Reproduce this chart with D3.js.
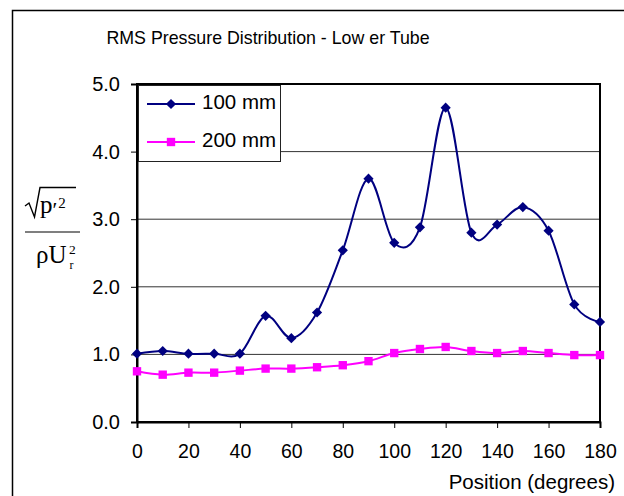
<!DOCTYPE html>
<html>
<head>
<meta charset="utf-8">
<script src="https://cdn.jsdelivr.net/npm/d3@7"></script>
<style>
  body { margin: 0; background: #fff; }
  text { font-family: "Liberation Sans", Arial, sans-serif; }
</style>
</head>
<body>
<div id="chart"></div>
<script>
const positions = [0, 10, 20, 30, 40, 50, 60, 70, 80, 90, 100, 110, 120, 130, 140, 150, 160, 170, 180];
const series100 = [1.01, 1.05, 1.01, 1.01, 1.01, 1.57, 1.24, 1.62, 2.54, 3.60, 2.65, 2.88, 4.65, 2.80, 2.92, 3.18, 2.83, 1.74, 1.48];
const series200 = [0.75, 0.70, 0.73, 0.73, 0.76, 0.79, 0.79, 0.81, 0.84, 0.90, 1.02, 1.08, 1.11, 1.05, 1.02, 1.05, 1.02, 0.99, 0.99];
const xTicks = [0, 20, 40, 60, 80, 100, 120, 140, 160, 180];
const yTicks = [0, 1, 2, 3, 4, 5];
const seriesNames = ["100 mm", "200 mm"];

const width = 624, height = 496;
const plotLeft = 137, plotRight = 600, plotTop = 84, plotBottom = 422;

const svg = d3.select("#chart").append("svg")
    .attr("width", width)
    .attr("height", height);

// outer chart frame (runs off the picture on right and bottom)
svg.append("rect")
    .attr("x", 12.5).attr("y", 10.5)
    .attr("width", 700).attr("height", 600)
    .attr("fill", "none")
    .attr("stroke", "#000")
    .attr("stroke-width", 1.5);

svg.append("text")
    .attr("x", 268).attr("y", 44)
    .attr("text-anchor", "middle")
    .style("font-size", "17.8px")
    .text("RMS Pressure Distribution - Low er Tube");

const x = d3.scaleLinear().domain([0, 180]).range([plotLeft, plotRight]);
const y = d3.scaleLinear().domain([0, 5]).range([plotBottom, plotTop]);

// gridlines
svg.append("g")
    .selectAll("line")
    .data(yTicks.slice(1, -1))
    .join("line")
    .attr("x1", plotLeft).attr("x2", plotRight)
    .attr("y1", d => y(d)).attr("y2", d => y(d))
    .attr("stroke", "#333")
    .attr("stroke-width", 1);

// plot area border
svg.append("rect")
    .attr("x", plotLeft).attr("y", plotTop)
    .attr("width", plotRight - plotLeft).attr("height", plotBottom - plotTop)
    .attr("fill", "none")
    .attr("stroke", "#000")
    .attr("stroke-width", 2);

const xAxis = svg.append("g")
    .attr("transform", `translate(0,${plotBottom})`)
    .call(d3.axisBottom(x).tickValues(xTicks).tickSize(6).tickPadding(16).tickFormat(d3.format("d")));
xAxis.select(".domain").attr("stroke-width", 2);
xAxis.selectAll("text").style("font-size", "19.5px").attr("fill", "#000");

const yAxis = svg.append("g")
    .attr("transform", `translate(${plotLeft},0)`)
    .call(d3.axisLeft(y).tickValues(yTicks).tickSize(6).tickPadding(11).tickFormat(d3.format(".1f")));
yAxis.select(".domain").attr("stroke-width", 2);
yAxis.selectAll("text").style("font-size", "20px").attr("fill", "#000");

svg.append("text")
    .attr("x", 615).attr("y", 489)
    .attr("text-anchor", "end")
    .style("font-size", "20.5px")
    .text("Position (degrees)");

// y axis label: sqrt(p'^2) / (rho U_r^2)
const serif = "'Liberation Serif', 'Times New Roman', serif";
const yl = svg.append("g");
yl.append("path")
    .attr("d", "M25,206 L29,203 L34.5,217 L40,187.5 L76,187.5")
    .attr("fill", "none")
    .attr("stroke", "#000")
    .attr("stroke-width", 1.4);
const num = yl.append("text").attr("x", 40).attr("y", 213)
    .style("font-family", serif).style("font-size", "25px");
num.append("tspan").text("p");
num.append("tspan").attr("dy", 4).style("font-size", "22px").text("\u2032");
num.append("tspan").attr("dy", -9).attr("dx", 1).style("font-size", "15px").text("2");
yl.append("line").attr("x1", 25).attr("x2", 80).attr("y1", 232).attr("y2", 232)
    .attr("stroke", "#000").attr("stroke-width", 1.2);
const den = yl.append("text").attr("x", 36).attr("y", 263)
    .style("font-family", serif).style("font-size", "25px");
den.append("tspan").text("\u03C1U");
den.append("tspan").attr("x", 69).attr("y", 253.5).style("font-size", "13.5px").text("2");
den.append("tspan").attr("x", 69.5).attr("y", 269).style("font-size", "12px").text("r");

const line = d3.line()
    .x((d, i) => x(positions[i]))
    .y(d => y(d))
    .curve(d3.curveCardinal.tension(0));

const diamond = d3.symbol().type(d3.symbolSquare).size(52);
const square = d3.symbol().type(d3.symbolSquare).size(70);

svg.append("path")
    .datum(series100)
    .attr("d", line)
    .attr("fill", "none")
    .attr("stroke", "#000080")
    .attr("stroke-width", 2);
svg.append("g").selectAll("path")
    .data(series100)
    .join("path")
    .attr("transform", (d, i) => `translate(${x(positions[i])},${y(d)}) rotate(45)`)
    .attr("d", diamond)
    .attr("fill", "#000080");

svg.append("path")
    .datum(series200)
    .attr("d", line)
    .attr("fill", "none")
    .attr("stroke", "#FF00FF")
    .attr("stroke-width", 2);
svg.append("g").selectAll("path")
    .data(series200)
    .join("path")
    .attr("transform", (d, i) => `translate(${x(positions[i])},${y(d)})`)
    .attr("d", square)
    .attr("fill", "#FF00FF");

// legend
const lg = svg.append("g");
lg.append("rect")
    .attr("x", 138.5).attr("y", 85.5)
    .attr("width", 142).attr("height", 76)
    .attr("fill", "#fff")
    .attr("stroke", "#222")
    .attr("stroke-width", 1);
const colors = ["#000080", "#FF00FF"];
const syms = [diamond, square];
const rot = [" rotate(45)", ""];
seriesNames.forEach((name, i) => {
    const yy = 104 + i * 38;
    lg.append("line").attr("x1", 147).attr("x2", 195).attr("y1", yy).attr("y2", yy)
        .attr("stroke", colors[i]).attr("stroke-width", 2);
    lg.append("path").attr("transform", `translate(171,${yy})${rot[i]}`).attr("d", syms[i]).attr("fill", colors[i]);
    lg.append("text").attr("x", 202).attr("y", yy + 5).style("font-size", "20.5px").text(name);
});
</script>
</body>
</html>
